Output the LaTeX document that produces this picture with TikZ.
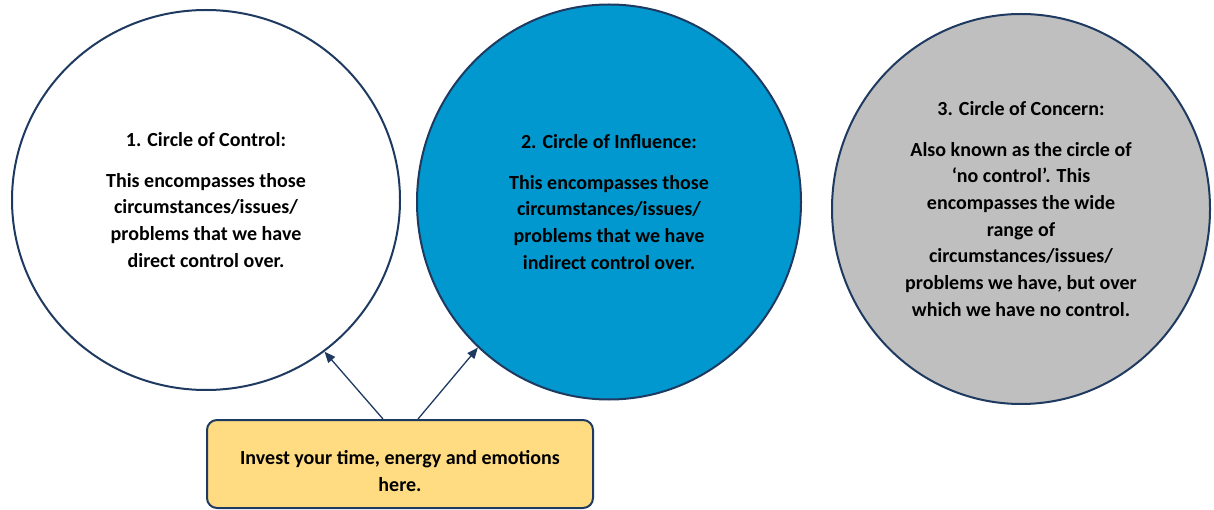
\documentclass[tikz,border=0pt]{standalone}
\usepackage{fontspec}
\setmainfont{Carlito}
\usetikzlibrary{arrows.meta,shapes.geometric,positioning}

\definecolor{navy}{HTML}{1F3A60}
\definecolor{inflblue}{HTML}{0098CE}
\definecolor{concerngray}{HTML}{BFBFBF}
\definecolor{investyellow}{HTML}{FFDB82}

\begin{document}
\begin{tikzpicture}[
            x=1pt, y=-1pt,
            every node/.style={ font=\bfseries\fontsize{20}{26.7}\selectfont, align=center, text=black },
            ring/.style={ ellipse, draw=navy, line width=2pt, inner sep=0pt },
            investbox/.style={ draw=navy, line width=2pt, fill=investyellow, rounded corners=10pt,
                               minimum width=386pt, minimum height=88pt },
            arr/.style={ draw=navy, line width=1.3pt, -{Triangle[length=11pt,width=9pt]} }
        ]
        \useasboundingbox (0,0) rectangle (1214,510);

        \node[ring, fill=white, minimum width=388pt, minimum height=380pt] (ctrl) at (206,200)
            {1. Circle of Control:\\[14pt]
             This encompasses those\\ circumstances/issues/\\ problems that we have\\ direct control over.};
        \node[ring, fill=inflblue, minimum width=384pt, minimum height=395pt] (infl) at (609,202)
            {2. Circle of Influence:\\[14pt]
             This encompasses those\\ circumstances/issues/\\ problems that we have\\ indirect control over.};
        \node[ring, fill=concerngray, minimum width=378pt, minimum height=390pt] (concern) at (1021,209)
            {3. Circle of Concern:\\[14pt]
             Also known as the circle of\\ `no control'. This\\ encompasses the wide\\ range of\\
             circumstances/issues/\\ problems we have, but over\\ which we have no control.};

        \node[investbox] (invest) at (400,464)
            {\rule{0pt}{28pt}Invest your time, energy and emotions\\ here.};

        \draw[arr] ([xshift=-17pt]invest.north) -- (ctrl.-52);
        \draw[arr] ([xshift=18pt]invest.north) -- (infl.-132);
    \end{tikzpicture}
\end{document}
